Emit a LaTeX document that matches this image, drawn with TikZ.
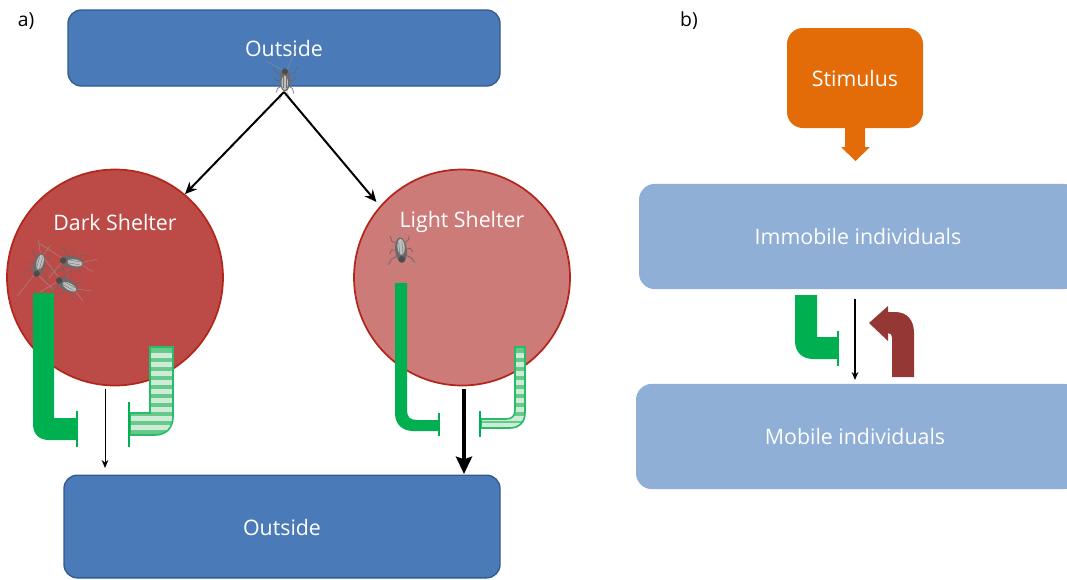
\documentclass[tikz,border=0pt]{standalone}
\usepackage{fontspec}
\setmainfont{Open Sans}
\usetikzlibrary{arrows.meta}
\definecolor{boxblue}{HTML}{4A7AB8}
\definecolor{boxedge}{HTML}{2F5A8F}
\definecolor{paleblue}{HTML}{8FAFD7}
\definecolor{darkred}{HTML}{BC4B48}
\definecolor{lightred}{HTML}{CC7B78}
\definecolor{rededge}{HTML}{B3261C}
\definecolor{stimorange}{HTML}{E36C09}
\definecolor{inhibgreen}{HTML}{00B050}
\definecolor{stripeA}{HTML}{CDEBD6}
\definecolor{stripeB}{HTML}{66C98A}
\definecolor{brick}{HTML}{953735}
\tikzset{
  x=0.75pt,y=-0.75pt,
  lbl/.style={text=white,font=\fontsize{16pt}{18pt}\selectfont},
  boxa/.style={draw=boxedge,line width=1pt,fill=boxblue,rounded corners=10pt,lbl},
  boxb/.style={fill=paleblue,rounded corners=12pt,lbl},
  dish/.style={circle,draw=rededge,line width=1.3pt,minimum size=162pt,inner sep=0pt},
  arr/.style={-{Stealth[length=9pt,width=8pt]},line width=1.5pt,black},
  thin arr/.style={-{Stealth[length=6pt,width=5pt]},line width=0.7pt,black},
  thick arr/.style={-{Stealth[length=13pt,width=12pt,inset=2pt]},line width=3pt,black},
  solidinh/.style={fill=inhibgreen},
  tee/.style={line width=1.5pt,inhibgreen},
  stripeedge/.style={draw=inhibgreen!85!white,line width=1.2pt},
  pics/cricket/.style={code={
    \draw[black!40,line width=0.25pt] (-1.5,-11) -- (-7,-24) (1.5,-11) -- (6,-22)
      (-2,10) -- (-13,36) (2,10) -- (20,20);
    \draw[black!60,line width=0.5pt]
      (-3,-6) -- (-8,-9) -- (-9,-14) (3,-6) -- (8,-9) -- (9,-13)
      (-3,0) -- (-9,-1) -- (-11,3) (3,0) -- (9,-1) -- (11,3)
      (-3,5) -- (-10,8) -- (-13,13) (3,5) -- (9,8) -- (12,13);
    \fill[black!58] (0,0) ellipse [x radius=5.6,y radius=12];
    \fill[black!25] (0.3,-3) ellipse [x radius=3.4,y radius=7.5];
    \fill[black!70] (0,9) circle (3.2);
    \draw[black!55,line width=0.3pt] (-1.5,-8) -- (-1.5,4) (1.5,-8) -- (1.5,5);
  }}
}
\begin{document}
\begin{tikzpicture}
\useasboundingbox (0,0) rectangle (1067,579);
% panel a boxes and shelters
\node[boxa,minimum width=324pt,minimum height=57pt] (outtop) at (284,48) {};
\node[lbl] (outtoplabel) at (284,48) {Outside};
\node[boxa,minimum width=327pt,minimum height=77pt] (outbot) at (282,526.5) {};
\node[lbl] (outbotlabel) at (282,527) {Outside};
\node[dish,fill=darkred] (dark) at (115,277.5) {};
\node[dish,fill=lightred] (light) at (462,277.5) {};
\node[lbl] (darklabel) at (115,222) {Dark Shelter};
\node[lbl] (lightlabel) at (462,222) {Light Shelter};
\node (a) at (26,21) {\fontsize{14.5pt}{16pt}\selectfont a)};
\node (b) at (689,21) {\fontsize{14.5pt}{16pt}\selectfont b)};
% crickets
\coordinate (insect) at (284,92);
\pic[rotate=180,scale=0.95] at (285,80) {cricket};
\pic[rotate=-15,scale=1.0] at (39,265) {cricket};
\pic[rotate=-100,scale=1.0] at (72,262) {cricket};
\pic[rotate=-120,scale=1.0] at (67,285) {cricket};
\pic[rotate=5,scale=1.05] at (401,250) {cricket};
% connectors panel a
\draw[arr] (insect) -- (dark.50);
\draw[arr,shorten >=4pt] (insect) -- (light.139);
\coordinate (d1) at (105,389);
\coordinate (d2) at (105,468);
\coordinate (l1) at (464,389);
\coordinate (l2) at (464,474);
\draw[thin arr] (d1) -- (d2);
\draw[thick arr] (l1) -- (l2);
% dark shelter inhibitors
\fill[solidinh] (33,293) -- (54,293) -- (54,418) -- (77,418) -- (77,440) -- (49,440) .. controls (39,440) and (33,434) .. (33,424) -- cycle;
\draw[tee] (77,411) -- (77,447);
\begin{scope}
\clip (150,347) -- (173,347) -- (173,417) .. controls (173,428) and (166,435) .. (155,435) -- (130,435) -- (130,413) -- (150,413) -- cycle;
\fill[stripeB] (125,340) rectangle (180,440);
\foreach \yy in {353,362,371,380,389,398,407,416,425}
  \fill[stripeA] (125,\yy) rectangle (180,\yy+4.5);
\end{scope}
\draw[stripeedge] (150,347) -- (173,347) -- (173,417) .. controls (173,428) and (166,435) .. (155,435) -- (130,435) -- (130,413) -- (150,413) -- cycle;
\draw[tee] (129,402) -- (129,447);
% light shelter inhibitors
\fill[solidinh] (395,283) -- (407,283) -- (407,410) .. controls (407,417) and (410,420) .. (417,420) -- (439,420) -- (439,431) -- (413,431) .. controls (402,431) and (395,424) .. (395,413) -- cycle;
\draw[tee] (439,413) -- (439,436);
\begin{scope}
\clip (515,347) -- (525,347) -- (525,413) .. controls (525,422) and (519,428) .. (510,428) -- (481,428) -- (481,419) -- (506,419) .. controls (512,419) and (515,416) .. (515,410) -- cycle;
\fill[stripeB] (478,340) rectangle (530,435);
\foreach \yy in {353,362,371,380,389,398,407,416,423}
  \fill[stripeA] (478,\yy) rectangle (530,\yy+4.5);
\end{scope}
\draw[stripeedge] (515,347) -- (525,347) -- (525,413) .. controls (525,422) and (519,428) .. (510,428) -- (481,428) -- (481,419) -- (506,419) .. controls (512,419) and (515,416) .. (515,410) -- cycle;
\draw[tee] (480,411) -- (480,437);
% panel b
\node[fill=stimorange,rounded corners=12pt,minimum width=102pt,minimum height=75pt] (stim) at (855,78) {};
\node[lbl] (stimlabel) at (855,78) {Stimulus};
\node[boxb,minimum width=330pt,minimum height=79pt] (imm) at (859,236.5) {};
\node[lbl] (immlabel) at (858,236.5) {Immobile individuals};
\node[boxb,minimum width=333pt,minimum height=79pt] (mob) at (858,436.5) {};
\node[lbl] (moblabel) at (855,436.5) {Mobile individuals};
\fill[stimorange] (845,127) -- (865,127) -- (865,147) -- (870,147) -- (855.5,161) -- (841,147) -- (845,147) -- cycle;
\coordinate (m1) at (855,299);
\coordinate (m2) at (855,380);
\draw[thin arr,line width=1pt] (m1) -- (m2);
\fill[solidinh] (795,295) -- (817,295) -- (817,337) -- (838,337) -- (838,359) -- (813,359) .. controls (802,359) and (795,352) .. (795,341) -- cycle;
\draw[tee] (838,331) -- (838,366);
\fill[brick] (892,377) -- (914,377) -- (914,333) .. controls (914,320) and (907,312) .. (895,312) -- (888,312) -- (888,306) -- (869,323) -- (888,341) -- (888,333) .. controls (891,333) and (892,335) .. (892,338) -- cycle;
\end{tikzpicture}
\end{document}
